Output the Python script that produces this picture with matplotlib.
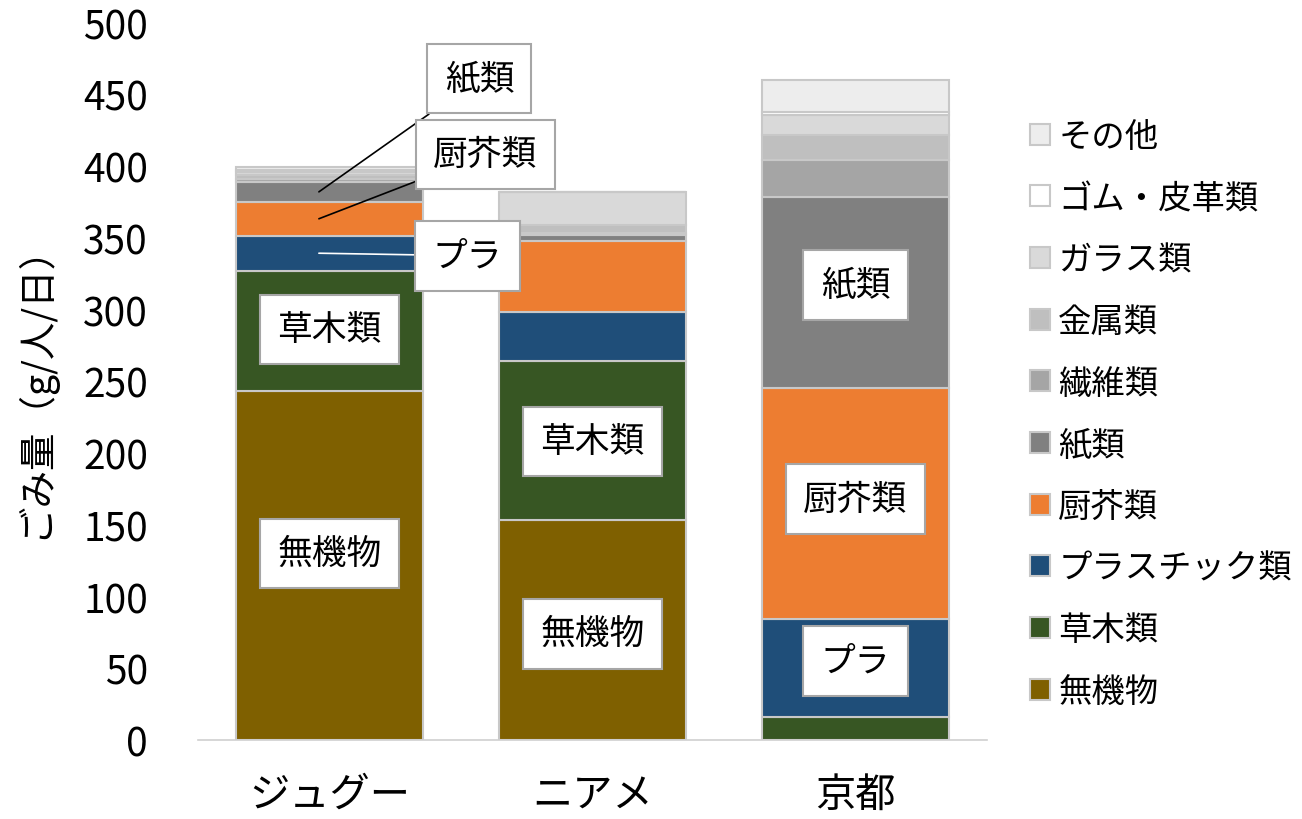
import numpy as np
import matplotlib
matplotlib.use("Agg")
import matplotlib.pyplot as plt

plt.rcParams['font.family'] = ['Noto Sans CJK JP', 'DejaVu Sans']

# データ (g/人/日)
cities = ["ジュグー", "ニアメ", "京都"]
categories = ["無機物", "草木類", "プラスチック類", "厨芥類", "紙類",
              "繊維類", "金属類", "ガラス類", "ゴム・皮革類", "その他"]
mukibutsu = [243, 153, 0]
soumoku = [84, 111, 16]
plastic = [24.5, 34, 68]
chukai = [23.5, 49.5, 161.5]
kami = [14, 4.5, 133]
seni = [2, 1, 26]
kinzoku = [3, 6, 17]
garasu = [2, 23, 14]
gomu = [1, 0, 2]
sonota = [2, 0, 22.5]
colors = ["#7f6000", "#375623", "#1f4e79", "#ed7d31", "#808080",
          "#a5a5a5", "#bfbfbf", "#d9d9d9", "#ffffff", "#ededed"]

series = [mukibutsu, soumoku, plastic, chukai, kami,
          seni, kinzoku, garasu, gomu, sonota]

fig = plt.figure(figsize=(13.02, 8.2), dpi=100)
ax = fig.add_axes([0.152, 0.0963, 0.606, 0.875])

x = np.arange(len(cities))
bottom = np.zeros(len(cities))
for vals, col, name in zip(series, colors, categories):
    ax.bar(x, vals, 0.71, bottom=bottom, color=col, edgecolor="#c8c8c8",
           linewidth=1.5, label=name)
    bottom += np.array(vals)

ax.set_xlim(-0.5, 2.5)
ax.set_ylim(0, 500)
ax.set_yticks(np.arange(0, 501, 50))
ax.set_xticks(x)
ax.set_xticklabels(cities, fontsize=29)
ax.tick_params(axis='y', labelsize=28, length=0, pad=36)
ax.tick_params(axis='x', length=0, pad=24)
for s in ["top", "right", "left"]:
    ax.spines[s].set_visible(False)
ax.spines["bottom"].set_color("#d0d0d0")
ax.spines["bottom"].set_linewidth(1.2)
ax.set_ylabel("ごみ量（g/人/日）", fontsize=27, labelpad=20)

boxprops = dict(boxstyle="square,pad=0.5", facecolor="white",
                edgecolor="#a6a6a6", linewidth=1.5)


def mid(i, k):
    lo = sum(s[i] for s in series[:k])
    return lo + series[k][i] / 2


# バー内ラベル (棒番号, y位置, 文字)
inside = [(0, 286, "草木類"), (0, 130, "無機物"), (1, 208, "草木類"),
          (1, 74, "無機物"), (2, 317, "紙類"), (2, 168, "厨芥類"),
          (2, 55, "プラ")]
for i, yy, t in inside:
    ax.text(x[i], yy, t, ha="center", va="center", fontsize=25,
            bbox=boxprops)

# ジュグーの吹き出し
callouts = [(4, "紙類", (0.57, 461), "black"),
            (3, "厨芥類", (0.593, 408), "black"),
            (2, "プラ", (0.525, 337.5), "white")]
for k, t, pos, lc in callouts:
    ax.annotate(t, xy=(x[0] - 0.04, mid(0, k)), xytext=pos,
                ha="center", va="center", fontsize=25, bbox=boxprops,
                arrowprops=dict(arrowstyle="-", color=lc, lw=1.2,
                                shrinkA=0, shrinkB=0))

handles, labels = ax.get_legend_handles_labels()
leg = fig.legend(handles[::-1], labels[::-1], loc="center left",
                 bbox_to_anchor=(0.768, 0.494), frameon=False, fontsize=24,
                 handlelength=0.6, handleheight=0.6, handletextpad=0.25,
                 labelspacing=0.8)

fig.savefig("out.png", dpi=100)
